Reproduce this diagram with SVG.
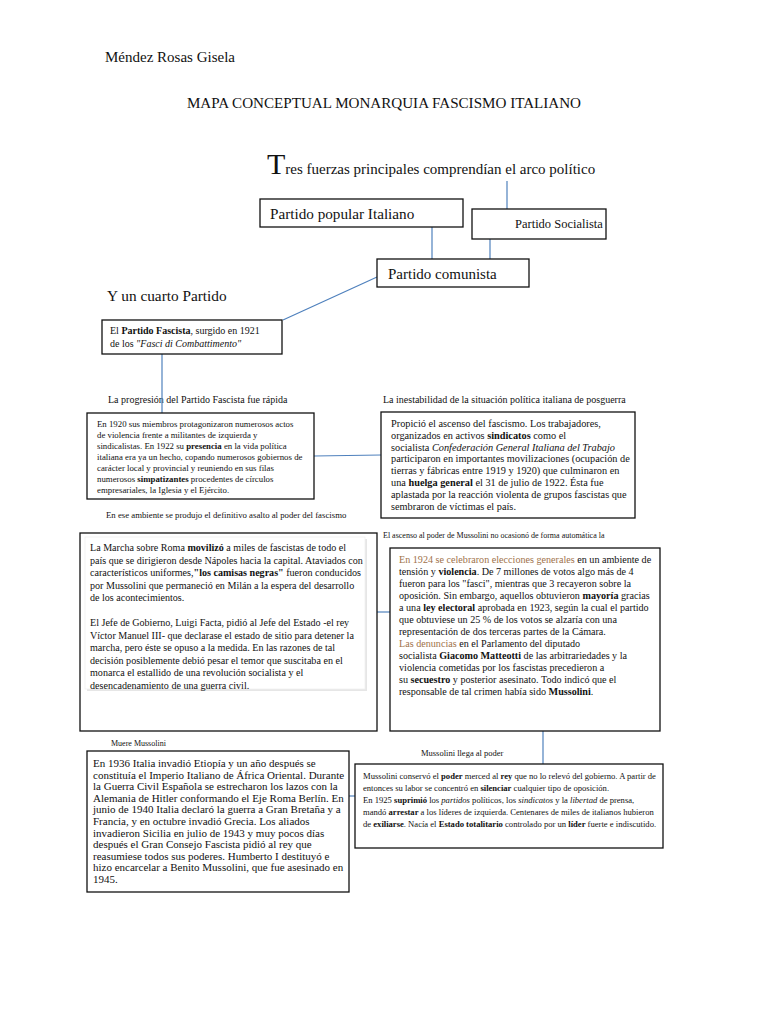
<svg xmlns="http://www.w3.org/2000/svg" width="768" height="1024" viewBox="0 0 768 1024" font-family="'Liberation Serif', serif">
<style>
text,tspan{font-family:"Liberation Serif",serif;fill:#111}
.box{fill:#fff;stroke:#111;stroke-width:1.3}
.con{stroke:#4f81bd;stroke-width:1.2;fill:none}
.b{font-weight:bold}
.i{font-style:italic}
.br{fill:#a0724a}
.t15{font-size:15px}
.t10{font-size:10px}
.t8{font-size:8px}
</style>
<rect width="768" height="1024" fill="#fff"/>
<text x="105" y="62" font-size="15">Méndez Rosas Gisela</text>
<text x="384" y="108" font-size="15.1" text-anchor="middle">MAPA CONCEPTUAL MONARQUIA FASCISMO ITALIANO</text>
<text x="267" y="174" font-size="15"><tspan font-size="30">T</tspan>res fuerzas principales comprendían el arco político</text>
<text x="107" y="301" font-size="15.3">Y un cuarto Partido</text>
<text x="108" y="403" class="t10">La progresión del Partido Fascista fue rápida</text>
<text x="383" y="403" class="t10">La inestabilidad de la situación política italiana de posguerra</text>
<text x="106" y="518" font-size="8.75">En ese ambiente se produjo el definitivo asalto al poder del fascismo</text>
<text x="383" y="538" class="t8">El ascenso al poder de Mussolini no ocasionó de forma automática la</text>
<text x="111" y="746" class="t8">Muere Mussolini</text>
<text x="421" y="756" font-size="8.5">Mussolini llega al poder</text>

<g id="connectors">
<line class="con" x1="507" y1="181" x2="507" y2="209"/>
<line class="con" x1="432" y1="227" x2="432" y2="259"/>
<line class="con" x1="490" y1="239" x2="490" y2="259"/>
<line class="con" x1="377" y1="277" x2="283" y2="320"/>
<line class="con" x1="162" y1="354" x2="162" y2="413"/>
<line class="con" x1="314" y1="456" x2="381" y2="455"/>
<line class="con" x1="377" y1="612" x2="390" y2="612"/>
<line class="con" x1="543" y1="731" x2="543" y2="764"/>
<line class="con" x1="349" y1="796" x2="355" y2="796"/>
</g>

<g id="popular">
<rect class="box" x="260" y="199" width="203" height="28"/>
<text x="270" y="219" font-size="15.2">Partido popular Italiano</text>
</g>
<g id="socialista">
<rect class="box" x="472" y="209" width="134" height="30"/>
<text x="515" y="228" font-size="12.5">Partido Socialista</text>
</g>
<g id="comunista">
<rect class="box" x="377" y="259" width="152" height="28"/>
<text x="388" y="279" class="t15">Partido comunista</text>
</g>
<g id="fascista">
<rect class="box" x="102" y="320" width="180" height="34"/>
<text x="110" y="334" class="t10">El <tspan class="b">Partido Fascista</tspan>, surgido en 1921</text>
<text x="110" y="347" class="t10">de los <tspan class="i">"Fasci di Combattimento"</tspan></text>
</g>
<g id="progresion">
<rect class="box" x="87" y="413" width="227" height="86"/>
<g font-size="8.8">
<text x="97" y="427">En 1920 sus miembros protagonizaron numerosos actos</text>
<text x="97" y="438">de violencia frente a militantes de izquierda y</text>
<text x="97" y="449">sindicalistas. En 1922 su <tspan class="b">presencia</tspan> en la vida política</text>
<text x="97" y="460">italiana era ya un hecho, copando numerosos gobiernos de</text>
<text x="97" y="471">carácter local y provincial y reuniendo en sus filas</text>
<text x="97" y="482">numerosos <tspan class="b">simpatizantes</tspan> procedentes de círculos</text>
<text x="97" y="493">empresariales, la Iglesia y el Ejército.</text>
</g>
</g>
<g id="inestabilidad">
<rect class="box" x="381" y="412" width="254" height="106"/>
<g font-size="10.3">
<text x="391" y="427">Propició el ascenso del fascismo. Los trabajadores,</text>
<text x="391" y="438.8">organizados en activos <tspan class="b">sindicatos</tspan> como el</text>
<text x="391" y="450.6">socialista <tspan class="i">Confederación General Italiana del Trabajo</tspan></text>
<text x="391" y="462.4">participaron en importantes movilizaciones (ocupación de</text>
<text x="391" y="474.2">tierras y fábricas entre 1919 y 1920) que culminaron en</text>
<text x="391" y="486">una <tspan class="b">huelga general</tspan> el 31 de julio de 1922. Ésta fue</text>
<text x="391" y="497.8">aplastada por la reacción violenta de grupos fascistas que</text>
<text x="391" y="509.6">sembraron de víctimas el país.</text>
</g>
</g>
<g id="marcha">
<rect class="box" x="80" y="533" width="297" height="198"/>
<rect x="87" y="539" width="280" height="152" fill="#e6e6e6"/>
<rect x="85" y="537" width="280" height="152" fill="#fff" stroke="#f0f0f0" stroke-width="0.8"/>
<g font-size="10.08">
<text x="90" y="551">La Marcha sobre Roma <tspan class="b">movilizó</tspan> a miles de fascistas de todo el</text>
<text x="90" y="563.5">país que se dirigieron desde Nápoles hacia la capital. Ataviados con</text>
<text x="90" y="576">característicos uniformes,<tspan class="b">"los camisas negras"</tspan> fueron conducidos</text>
<text x="90" y="588.5">por Mussolini que permaneció en Milán a la espera del desarrollo</text>
<text x="90" y="601">de los acontecimientos.</text>
<text x="90" y="626">El Jefe de Gobierno, Luigi Facta, pidió al Jefe del Estado -el rey</text>
<text x="90" y="638.5">Víctor Manuel III- que declarase el estado de sitio para detener la</text>
<text x="90" y="651">marcha, pero éste se opuso a la medida. En las razones de tal</text>
<text x="90" y="663.5">decisión posiblemente debió pesar el temor que suscitaba en el</text>
<text x="90" y="676">monarca el estallido de una revolución socialista y el</text>
<text x="90" y="688.5">desencadenamiento de una guerra civil.</text>
</g>
</g>
<g id="elecciones">
<rect class="box" x="390" y="548" width="270" height="183"/>
<g font-size="10.15">
<text x="399" y="563"><tspan class="br">En 1924 se celebraron elecciones generales</tspan> en un ambiente de</text>
<text x="399" y="575">tensión y <tspan class="b">violencia</tspan>. De 7 millones de votos algo más de 4</text>
<text x="399" y="587">fueron para los "fasci", mientras que 3 recayeron sobre la</text>
<text x="399" y="599">oposición. Sin embargo, aquellos obtuvieron <tspan class="b">mayoría</tspan> gracias</text>
<text x="399" y="611">a una <tspan class="b">ley electoral</tspan> aprobada en 1923, según la cual el partido</text>
<text x="399" y="623">que obtuviese un 25 % de los votos se alzaría con una</text>
<text x="399" y="635">representación de dos terceras partes de la Cámara.</text>
<text x="399" y="647"><tspan class="br">Las denuncias</tspan> en el Parlamento del diputado</text>
<text x="399" y="659">socialista <tspan class="b">Giacomo Matteotti</tspan> de las arbitrariedades y la</text>
<text x="399" y="671">violencia cometidas por los fascistas precedieron a</text>
<text x="399" y="683">su <tspan class="b">secuestro</tspan> y posterior asesinato. Todo indicó que el</text>
<text x="399" y="695">responsable de tal crimen había sido <tspan class="b">Mussolini</tspan>.</text>
</g>
</g>
<g id="muere">
<rect class="box" x="87" y="751" width="262" height="141"/>
<g font-size="11">
<text x="93" y="767">En 1936 Italia invadió Etiopía y un año después se</text>
<text x="93" y="778.6">constituía el Imperio Italiano de África Oriental. Durante</text>
<text x="93" y="790.2">la Guerra Civil Española se estrecharon los lazos con la</text>
<text x="93" y="801.8">Alemania de Hitler conformando el Eje Roma Berlín. En</text>
<text x="93" y="813.4">junio de 1940 Italia declaró la guerra a Gran Bretaña y a</text>
<text x="93" y="825">Francia, y en octubre invadió Grecia. Los aliados</text>
<text x="93" y="836.6">invadieron Sicilia en julio de 1943 y muy pocos días</text>
<text x="93" y="848.2">después el Gran Consejo Fascista pidió al rey que</text>
<text x="93" y="859.8">reasumiese todos sus poderes. Humberto I destituyó e</text>
<text x="93" y="871.4">hizo encarcelar a Benito Mussolini, que fue asesinado en</text>
<text x="93" y="883">1945.</text>
</g>
</g>
<g id="poder">
<rect class="box" x="355" y="764" width="308" height="84"/>
<g font-size="8.6">
<text x="363" y="779">Mussolini conservó el <tspan class="b">poder</tspan> merced al <tspan class="b">rey</tspan> que no lo relevó del gobierno. A partir de</text>
<text x="363" y="791">entonces su labor se concentró en <tspan class="b">silenciar</tspan> cualquier tipo de oposición.</text>
<text x="363" y="803">En 1925 <tspan class="b">suprimió</tspan> los <tspan class="i">partidos</tspan> políticos, los <tspan class="i">sindicatos</tspan> y la <tspan class="i">libertad</tspan> de prensa,</text>
<text x="363" y="815">mandó <tspan class="b">arrestar</tspan> a los líderes de izquierda. Centenares de miles de italianos hubieron</text>
<text x="363" y="827">de <tspan class="b">exiliarse</tspan>. Nacía el <tspan class="b">Estado totalitario</tspan> controlado por un <tspan class="b">líder</tspan> fuerte e indiscutido.</text>
</g>
</g>
</svg>
